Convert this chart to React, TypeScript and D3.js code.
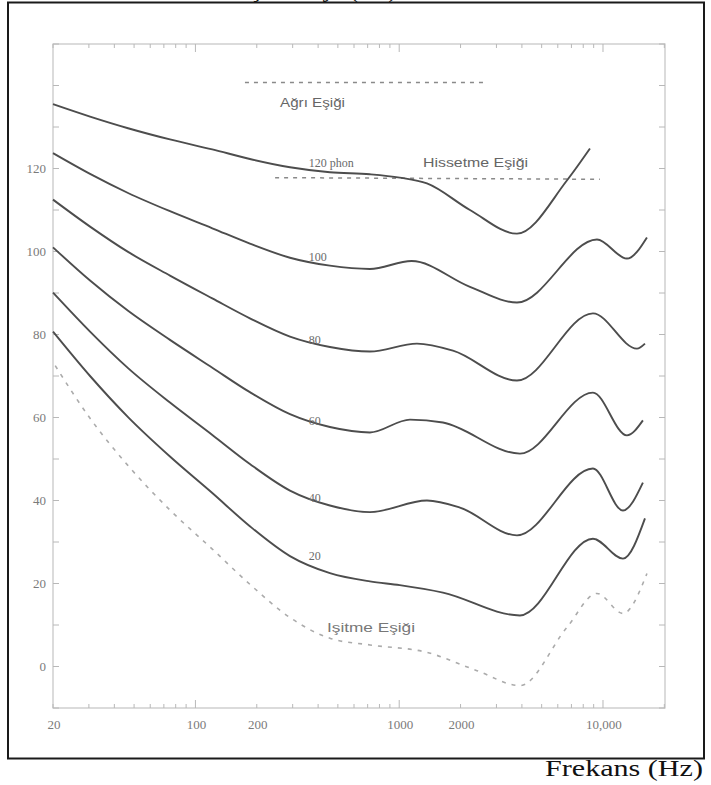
import React, { useRef, useEffect } from "react";
import * as d3 from "d3";

// equal-loudness contours, [frequency Hz, level dB]
const phon120 = [[20, 135.5], [30.4, 132.5], [46.7, 129.7], [75, 127], [121, 124.6], [185, 122.3], [291, 120.3], [457, 119.1], [718, 118.6], [1006, 117.8], [1368, 116.4], [2224, 110], [3784, 104.3], [6650, 117.1], [8630, 124.8]];
const phon100 = [[20, 123.7], [30.4, 118.7], [46.7, 114.1], [75, 109.7], [121, 105.6], [185, 101.9], [291, 98.5], [457, 96.6], [718, 95.8], [1150, 97.7], [2224, 91.5], [3784, 87.7], [9340, 102.9], [13100, 98.3], [16430, 103.4]];
const phon80 = [[20, 112.5], [30.4, 106], [46.7, 99.9], [75, 94.2], [121, 88.7], [185, 83.9], [291, 79.5], [457, 77], [718, 75.9], [1222, 77.8], [1836, 76.1], [3784, 68.9], [8926, 85.1], [14680, 76.6], [16070, 77.8]];
const phon60 = [[20, 101], [30.4, 93], [46.7, 85.7], [75, 78.7], [121, 72], [185, 66.1], [291, 60.8], [457, 57.7], [718, 56.4], [1129, 59.5], [1639, 58.8], [3912, 51.3], [8926, 66], [13100, 55.7], [15700, 59.3]];
const phon40 = [[20, 90.1], [30.4, 80.7], [46.7, 71.9], [75, 63.6], [121, 55.8], [185, 48.8], [291, 42.4], [457, 38.8], [718, 37.2], [1368, 40], [1986, 38.3], [3784, 31.6], [8926, 47.7], [12530, 37.6], [15700, 44.3]];
const phon20 = [[20, 80.7], [30.4, 70], [46.7, 60.1], [75, 50.6], [121, 41.8], [185, 33.8], [291, 26.6], [457, 22.5], [718, 20.5], [1006, 19.6], [1639, 17.8], [3912, 12.3], [8926, 30.8], [12530, 26], [16070, 35.7]];
const hearing = [[20.5, 72.5], [30.4, 59.8], [46.7, 48.4], [75, 37.7], [121, 28.3], [185, 19.8], [291, 11.8], [457, 6.8], [718, 5.2], [1368, 3.4], [2408, -1], [3912, -4.6], [6650, 9.4], [9340, 17.6], [12530, 12.8], [16430, 22.4]];
const pain = [[175, 140.7], [2726, 140.7]];
const feeling = [[246, 117.8], [9660, 117.4]];

const contours = [phon120, phon100, phon80, phon60, phon40, phon20];
const contourLabels = ["120 phon", "100", "80", "60", "40", "20"];
const labelLevels = [120.3, 97.8, 77.6, 58.3, 39.7, 25.7];

const yTickValues = [-10, 0, 10, 20, 30, 40, 50, 60, 70, 80, 90, 100, 110, 120, 130, 140, 150];
const yLabelValues = [0, 20, 40, 60, 80, 100, 120];
const xLabelValues = [20, 100, 200, 1000, 2000, 10000];
const xLabelTexts = ["20", "100", "200", "1000", "2000", "10,000"];

function App() {
  const ref = useRef<SVGSVGElement>(null);

  useEffect(() => {
    const svg = d3.select(ref.current);
    svg.selectAll("*").remove();

    const left = 53, right = 665, top = 44, bottom = 708;

    const x = d3.scaleLog().domain([20, 20150]).range([left, right]);
    const y = d3.scaleLinear().domain([-10, 150]).range([bottom, top]);

    // outer frame
    svg.append("rect")
      .attr("x", 8).attr("y", 2.5)
      .attr("width", 696).attr("height", 756)
      .attr("fill", "none").attr("stroke", "#1a1a1a").attr("stroke-width", 2);

    // title that sits above the crop, only its descenders show
    svg.append("text")
      .attr("x", 397).attr("y", -3)
      .attr("text-anchor", "end")
      .attr("font-family", "Liberation Serif, serif")
      .attr("font-size", 26)
      .attr("fill", "#111")
      .text("Ses Basınç Düzeyi (dB)");

    // plot box
    svg.append("rect")
      .attr("x", left).attr("y", top)
      .attr("width", right - left).attr("height", bottom - top)
      .attr("fill", "none").attr("stroke", "#c4c4c4").attr("stroke-width", 1.2);

    const axisColor = "#b8b8b8";

    // y ticks, left and right, pointing inwards
    const yTicks = svg.append("g");
    yTickValues.forEach(v => {
      yTicks.append("line")
        .attr("x1", left).attr("x2", left + 6)
        .attr("y1", y(v)).attr("y2", y(v))
        .attr("stroke", axisColor);
      yTicks.append("line")
        .attr("x1", right).attr("x2", right - 6)
        .attr("y1", y(v)).attr("y2", y(v))
        .attr("stroke", axisColor);
    });
    yTicks.selectAll("text")
      .data(yLabelValues)
      .enter()
      .append("text")
      .attr("x", left - 7)
      .attr("y", d => y(d) + 4.5)
      .attr("text-anchor", "end")
      .attr("font-family", "Liberation Serif, serif")
      .attr("font-size", 13)
      .attr("fill", "#7a7a7a")
      .text(d => d);

    // x ticks (log), bottom and top
    const xTickValues = x.ticks().filter(v => v >= 20 && v <= 20000);
    const xTicks = svg.append("g");
    xTickValues.forEach(v => {
      const major = [100, 1000, 10000].includes(v);
      xTicks.append("line")
        .attr("x1", x(v)).attr("x2", x(v))
        .attr("y1", bottom).attr("y2", bottom - (major ? 8 : 4))
        .attr("stroke", axisColor);
      xTicks.append("line")
        .attr("x1", x(v)).attr("x2", x(v))
        .attr("y1", top).attr("y2", top + (major ? 8 : 4))
        .attr("stroke", axisColor);
    });
    xTicks.selectAll("text")
      .data(xLabelValues)
      .enter()
      .append("text")
      .attr("x", d => x(d) + 1)
      .attr("y", bottom + 21)
      .attr("text-anchor", "middle")
      .attr("font-family", "Liberation Serif, serif")
      .attr("font-size", 13)
      .attr("fill", "#7a7a7a")
      .text((d, i) => xLabelTexts[i]);

    const line = d3.line<number[]>()
      .x(d => x(d[0]))
      .y(d => y(d[1]))
      .curve(d3.curveMonotoneX);

    // dashed threshold lines
    svg.append("path")
      .attr("d", line(pain))
      .attr("fill", "none").attr("stroke", "#8a8a8a")
      .attr("stroke-width", 1.5).attr("stroke-dasharray", "4,5");
    svg.append("path")
      .attr("d", line(feeling))
      .attr("fill", "none").attr("stroke", "#8a8a8a")
      .attr("stroke-width", 1.5).attr("stroke-dasharray", "4,5");
    svg.append("path")
      .attr("d", line(hearing))
      .attr("fill", "none").attr("stroke", "#ababab")
      .attr("stroke-width", 1.6).attr("stroke-dasharray", "4,6");

    // contours
    svg.selectAll(".contour")
      .data(contours)
      .enter()
      .append("path")
      .attr("class", "contour")
      .attr("d", d => line(d))
      .attr("fill", "none")
      .attr("stroke", "#4d4d4d")
      .attr("stroke-width", 1.9);

    svg.selectAll(".clabel")
      .data(contourLabels)
      .enter()
      .append("text")
      .attr("class", "clabel")
      .attr("x", x(360))
      .attr("y", (d, i) => y(labelLevels[i]))
      .attr("font-family", "Liberation Serif, serif")
      .attr("font-size", 12)
      .attr("fill", "#6a6a6a")
      .text(d => d);

    const sans = "Liberation Sans, Arial, sans-serif";
    svg.append("text")
      .attr("x", 280).attr("y", 107)
      .attr("font-family", sans).attr("font-size", 13)
      .attr("fill", "#666")
      .attr("textLength", 65).attr("lengthAdjust", "spacingAndGlyphs")
      .text("Ağrı Eşiği");
    svg.append("text")
      .attr("x", 423).attr("y", 167)
      .attr("font-family", sans).attr("font-size", 13)
      .attr("fill", "#666")
      .attr("textLength", 105).attr("lengthAdjust", "spacingAndGlyphs")
      .text("Hissetme Eşiği");
    svg.append("text")
      .attr("x", 327).attr("y", 632)
      .attr("font-family", sans).attr("font-size", 13)
      .attr("fill", "#777")
      .attr("textLength", 88).attr("lengthAdjust", "spacingAndGlyphs")
      .text("Işitme Eşiği");

    // axis caption below frame
    svg.append("text")
      .attr("x", 703).attr("y", 776)
      .attr("text-anchor", "end")
      .attr("font-family", "Liberation Serif, serif")
      .attr("font-size", 24)
      .attr("fill", "#111")
      .attr("textLength", 158).attr("lengthAdjust", "spacingAndGlyphs")
      .text("Frekans (Hz)");
  }, []);

  return (
    <svg
      ref={ref}
      width={711}
      height={785}
      style={{ position: "absolute", left: 0, top: 0, background: "#fff" }}
    />
  );
}

export default App;
